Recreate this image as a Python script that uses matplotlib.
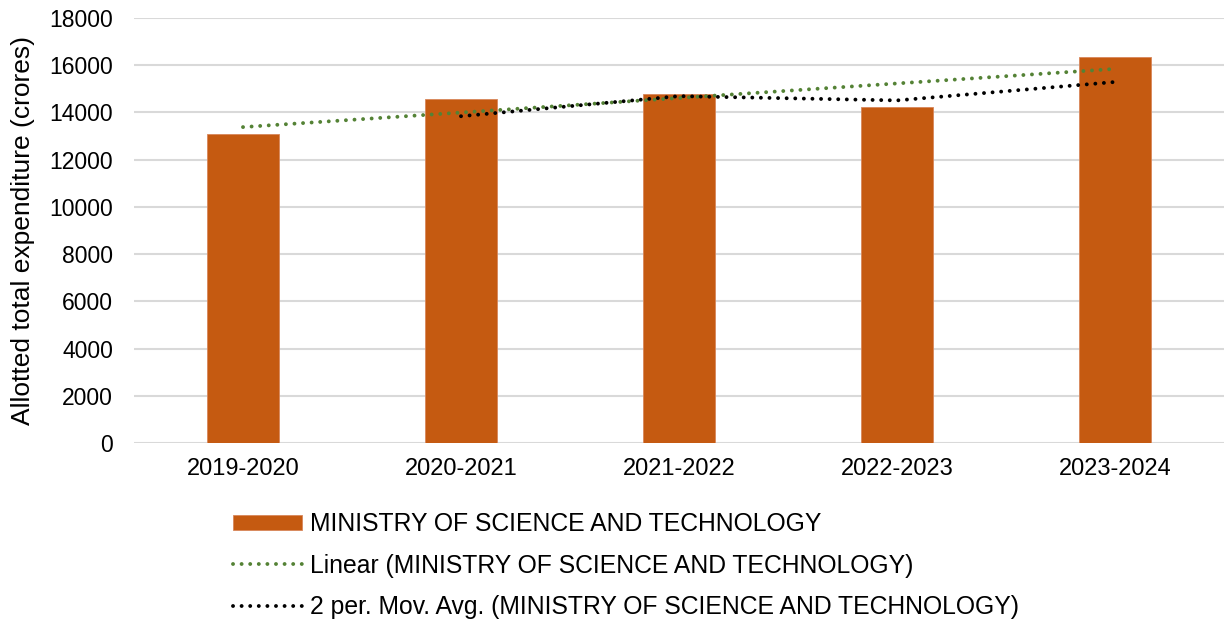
import numpy as np
import matplotlib.pyplot as plt

plt.rcParams['font.family'] = ['Liberation Sans', 'DejaVu Sans']

# --- Data (crores) ---
years = ['2019-2020', '2020-2021', '2021-2022', '2022-2023', '2023-2024']
spend = [13100, 14580, 14800, 14220, 16360]
series = 'MINISTRY OF SCIENCE AND TECHNOLOGY'

x = np.arange(len(years))
y = np.array(spend, dtype=float)

# trend lines as Excel draws them
coef = np.polyfit(x, y, 1)
lin = np.polyval(coef, x)
mavg = (y[1:] + y[:-1]) / 2

# --- Plotting ---
fig = plt.figure(figsize=(12.24, 6.23), dpi=100)
ax = fig.add_axes([134/1224, 1 - 443/623, 1090/1224, 425/623])

dots = (0, (0.01, 2.2))
bars = ax.bar(x, y, width=0.33, color='#C55A11', edgecolor='#D8865A', linewidth=0.6,
              label=series, zorder=2)
l1, = ax.plot(x, lin, linestyle=dots, dash_capstyle='round', lw=2.8,
              color='#548235', label=f'Linear ({series})', zorder=3)
l2, = ax.plot(x[1:], mavg, linestyle=dots, dash_capstyle='round', lw=2.8,
              color='black', label=f'2 per. Mov. Avg. ({series})', zorder=3)

ax.set_xlim(-0.5, 4.5)
ax.set_ylim(0, 18000)
ax.set_yticks(range(0, 18001, 2000))
ax.set_xticks(x)
ax.set_xticklabels(years)
ax.tick_params(axis='both', length=0, labelsize=16.5, colors='black')
ax.tick_params(axis='x', pad=11, labelsize=17)
ax.tick_params(axis='y', pad=15)
ax.grid(axis='y', color='#D9D9D9', lw=1.5, zorder=0)
ax.set_axisbelow(True)
for s in ax.spines.values():
    s.set_visible(False)
ax.set_ylabel('Allotted total expenditure (crores)', fontsize=19)
ax.yaxis.set_label_coords(-0.091, 0.5)

fig.legend(handles=[bars, l1, l2], loc='upper left',
           bbox_to_anchor=(211/1224, 1 - 490/623), frameon=False,
           fontsize=17.8, handlelength=2.8, handleheight=0.6, labelspacing=0.7,
           handletextpad=0.3)

plt.savefig('out.png', dpi=100)
